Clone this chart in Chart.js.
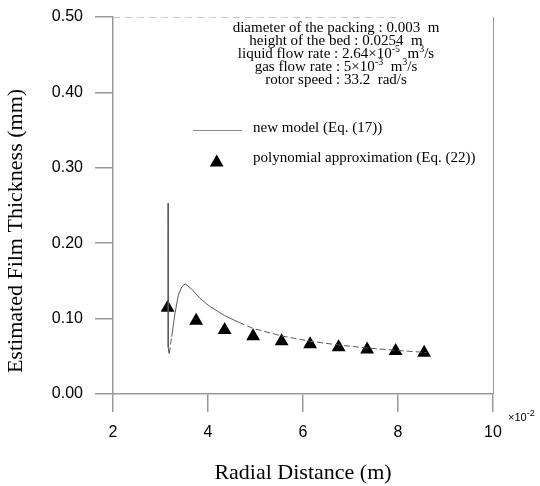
<!DOCTYPE html>
<html><head><meta charset="utf-8">
<script src="https://cdn.jsdelivr.net/npm/chart.js@4/dist/chart.umd.min.js"></script>
<style>html,body{margin:0;padding:0;background:#fff}#wrap{width:540px;height:486px}</style>
</head><body><div id="wrap"><canvas id="c" width="540" height="486"></canvas></div>
<script>
// ---- data ----
const xTicks = [2, 4, 6, 8, 10];
const yTicks = [0, 0.1, 0.2, 0.3, 0.4, 0.5];
const modelX = [3.16, 3.163, 3.18, 3.235, 3.305, 3.375, 3.446, 3.52, 3.656, 3.83, 4.04, 4.35, 4.65, 4.95, 5.55, 6.15, 6.75, 7.35, 7.95, 8.6];
const modelY = [0.253, 0.062, 0.052, 0.076, 0.107, 0.131, 0.142, 0.146, 0.139, 0.127, 0.116, 0.104, 0.095, 0.087, 0.077, 0.070, 0.065, 0.061, 0.058, 0.055];
const polyX = [3.15, 3.75, 4.35, 4.95, 5.55, 6.15, 6.75, 7.35, 7.95, 8.55];
const polyY = [0.1145, 0.097, 0.085, 0.0765, 0.070, 0.066, 0.062, 0.059, 0.057, 0.0548];
const legendLabels = ['new model (Eq. (17))', 'polynomial approximation (Eq. (22))'];
const xTitle = 'Radial Distance (m)';
const yTitle = 'Estimated Film Thickness (mm)';
const xExponent = ['\u00d710', '-2'];
// info lines: [text, superscript?] segments
const infoLines = [
  [['diameter of the packing : 0.003  m', false]],
  [['height of the bed : 0.0254  m', false]],
  [['liquid flow rate : 2.64\u00d710', false], ['-5', true], ['  m', false], ['3', true], ['/s', false]],
  [['gas flow rate : 5\u00d710', false], ['-3', true], ['  m', false], ['3', true], ['/s', false]],
  [['rotor speed : 33.2  rad/s', false]]
];

const SERIF = '"Liberation Serif", "Times New Roman", serif';
const SANS = '"Liberation Sans", Arial, sans-serif';

function drawRich(ctx, segs, cx, cy, size, align) {
  let w = 0;
  const parts = segs.map(([t, sup]) => {
    ctx.font = (sup ? Math.round(size * 0.68) : size) + 'px ' + SERIF;
    const pw = ctx.measureText(t).width;
    w += pw;
    return {t, sup, pw};
  });
  let x = align === 'left' ? cx : cx - w / 2;
  ctx.textAlign = 'left';
  ctx.textBaseline = 'middle';
  parts.forEach(p => {
    ctx.font = (p.sup ? Math.round(size * 0.68) : size) + 'px ' + SERIF;
    ctx.fillText(p.t, x, p.sup ? cy - size * 0.32 : cy);
    x += p.pw;
  });
}

const decor = {
  id: 'decor',
  afterDraw(chart) {
    const ctx = chart.ctx;
    const a = chart.chartArea;
    ctx.save();
    // faint frame (top dashed, right solid)
    ctx.strokeStyle = '#c8c8c8';
    ctx.lineWidth = 1;
    ctx.setLineDash([7, 5]);
    ctx.beginPath(); ctx.moveTo(a.left, a.top + 0.5); ctx.lineTo(a.left + 290, a.top + 0.5); ctx.stroke();
    ctx.setLineDash([]);
    ctx.strokeStyle = '#9a9a9a';
    ctx.beginPath(); ctx.moveTo(a.right + 0.5, a.top); ctx.lineTo(a.right + 0.5, a.bottom); ctx.stroke();

    ctx.fillStyle = '#000';
    // y title
    ctx.save();
    ctx.translate(16, 231);
    ctx.rotate(-Math.PI / 2);
    ctx.font = '22px ' + SERIF;
    ctx.textAlign = 'center';
    ctx.textBaseline = 'middle';
    ctx.fillText(yTitle, 0, 0);
    ctx.restore();

    // info block
    const ys = [28, 41.5, 54.5, 67.5, 80.5];
    infoLines.forEach((segs, i) => drawRich(ctx, segs, 336, ys[i], 15, 'center'));

    // legend
    ctx.strokeStyle = '#8a8a8a';
    ctx.lineWidth = 1;
    ctx.beginPath(); ctx.moveTo(193, 130.5); ctx.lineTo(242, 130.5); ctx.stroke();
    drawRich(ctx, [[legendLabels[0], false]], 253, 128, 15, 'left');
    ctx.fillStyle = '#000';
    ctx.beginPath();
    ctx.moveTo(216.7, 154.5); ctx.lineTo(223.6, 166.5); ctx.lineTo(209.8, 166.5); ctx.closePath(); ctx.fill();
    drawRich(ctx, [[legendLabels[1], false]], 253, 158, 15, 'left');

    // x exponent
    ctx.font = '11px ' + SANS;
    ctx.textAlign = 'left';
    ctx.textBaseline = 'alphabetic';
    ctx.fillText(xExponent[0], 508, 421);
    const w0 = ctx.measureText(xExponent[0]).width;
    ctx.font = '9px ' + SANS;
    ctx.fillText(xExponent[1], 508 + w0, 416);
    ctx.restore();
  }
};

new Chart(document.getElementById('c'), {
  type: 'scatter',
  data: {
    datasets: [
      {
        type: 'line',
        label: legendLabels[0],
        data: modelX.map((x, i) => ({x, y: modelY[i]})),
        borderColor: '#5a5a5a',
        borderWidth: 1,
        pointRadius: 0,
        fill: false,
        tension: 0,
        segment: {
          borderDash: ctx => (ctx.p0.parsed.x >= 4.6 || (ctx.p0.parsed.x < 3.2 && ctx.p0.parsed.y < 0.1)) ? [6, 3] : undefined
        }
      },
      {
        type: 'scatter',
        label: legendLabels[1],
        data: polyX.map((x, i) => ({x, y: polyY[i]})),
        pointStyle: 'triangle',
        pointRadius: 8,
        backgroundColor: '#000',
        borderColor: '#000',
        borderWidth: 0
      }
    ]
  },
  options: {
    responsive: false,
    animation: false,
    devicePixelRatio: 1,
    layout: {padding: {left: 0, right: 47, top: 17, bottom: 0}},
    plugins: {legend: {display: false}, tooltip: {enabled: false}},
    scales: {
      x: {
        type: 'linear', min: 2, max: 10,
        afterBuildTicks: s => { s.ticks = xTicks.map(v => ({value: v})); },
        afterFit: s => { s.height = 92; s.paddingLeft = 0; s.paddingRight = 0; },
        ticks: {color: '#000', font: {family: SANS, size: 16}, padding: 11, callback: v => String(v)},
        grid: {drawOnChartArea: false, drawTicks: true, tickLength: 18, color: '#999', lineWidth: 1.5},
        border: {color: '#999', width: 1.5},
        title: {display: true, text: xTitle, color: '#000', font: {family: SERIF, size: 22}, padding: 0}
      },
      y: {
        type: 'linear', min: 0, max: 0.5,
        afterBuildTicks: s => { s.ticks = yTicks.map(v => ({value: v})); },
        afterFit: s => { s.width = 113; s.paddingTop = 0; s.paddingBottom = 0; },
        ticks: {color: '#000', font: {family: SANS, size: 16}, padding: 12, callback: v => Number(v).toFixed(2)},
        grid: {drawOnChartArea: false, drawTicks: true, tickLength: 18, color: '#999', lineWidth: 1.5},
        border: {color: '#999', width: 1.5}
      }
    }
  },
  plugins: [decor]
});
</script>
</body></html>
